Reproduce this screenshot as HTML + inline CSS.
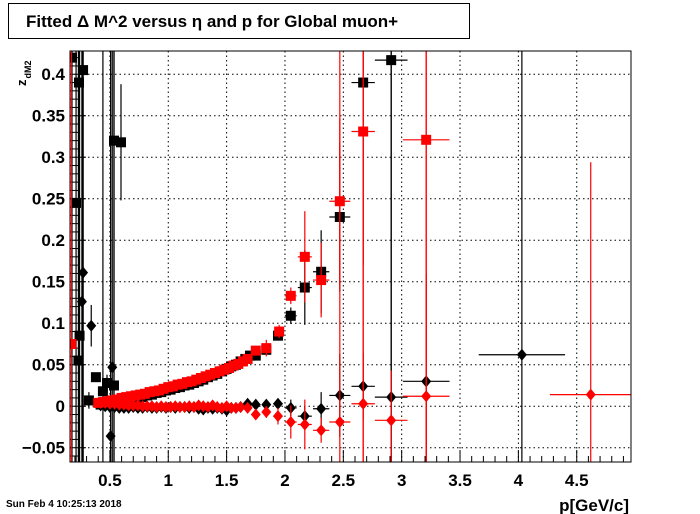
<!DOCTYPE html>
<html><head><meta charset="utf-8"><style>
html,body{margin:0;padding:0;background:#fff;width:700px;height:514px;overflow:hidden;}
svg{display:block;font-family:"Liberation Sans",Arial,sans-serif;}
</style></head><body>
<svg id="chart" width="700" height="514" viewBox="0 0 700 514" xmlns="http://www.w3.org/2000/svg">
<defs><clipPath id="fc"><rect x="70" y="51" width="561" height="411"/></clipPath></defs>
<rect x="0" y="0" width="700" height="514" fill="#fff"/>
<g>
<rect x="8.5" y="3.5" width="461" height="35" fill="#fff" stroke="#000" stroke-width="1"/>
<text x="26" y="27" font-size="17" font-weight="bold">Fitted Δ M^2 versus η and p for Global muon+</text>
</g>
<g id="grid"></g>
<g id="ticks"></g>
<g id="plot" clip-path="url(#fc)"></g>
<rect x="70" y="51" width="561" height="411" fill="none" stroke="#000" stroke-width="1"/>
<text transform="translate(26,86) rotate(-90)" font-size="13" font-weight="bold">z<tspan font-size="9" dy="5" dx="1">dM2</tspan></text>
<text x="629" y="511" font-size="17" font-weight="bold" text-anchor="end">p[GeV/c]</text>
<text x="6" y="507" font-size="10" font-weight="bold">Sun Feb  4 10:25:13 2018</text>
</svg>
<script>
const xTicks=[0.5,1,1.5,2,2.5,3,3.5,4,4.5];
const xTickLabels=["0.5","1","1.5","2","2.5","3","3.5","4","4.5"];
const yTicks=[-0.05,0,0.05,0.1,0.15,0.2,0.25,0.3,0.35,0.4];
const yTickLabels=["\u22120.05","0","0.05","0.1","0.15","0.2","0.25","0.3","0.35","0.4"];

const bsX=[0.175,0.21,0.235,0.27,0.24,0.23,0.32,0.38,0.44,0.475,0.535,0.535,0.595,
0.42,0.46,0.50,0.54,0.58,0.62,0.66,0.70,0.74,0.78,0.82,0.86,0.90,0.94,0.98,1.02,1.06,1.10,1.14,1.18,1.22,1.26,1.30,1.34,1.38,1.42,1.46,1.50,1.54,1.58,1.62,1.66,1.70,
1.75,1.84,1.94,2.05,2.17,2.31,2.47,2.67,2.91];
const bsY=[0.42,0.245,0.39,0.405,0.085,0.055,0.007,0.035,0.018,0.028,0.025,0.32,0.318,
0.002,0.003,0.004,0.005,0.006,0.007,0.008,0.009,0.010,0.011,0.013,0.014,0.016,0.017,0.019,0.020,0.022,0.023,0.025,0.026,0.028,0.030,0.032,0.035,0.037,0.039,0.042,0.045,0.048,0.050,0.054,0.057,0.061,
0.061,0.068,0.085,0.109,0.143,0.162,0.228,0.39,0.417];
const bsEX=[0,0,0,0,0,0,0.01,0.01,0.01,0.01,0.01,0.01,0.01,
0.02,0.02,0.02,0.02,0.02,0.02,0.02,0.02,0.02,0.02,0.02,0.02,0.02,0.02,0.02,0.02,0.02,0.02,0.02,0.02,0.02,0.02,0.02,0.02,0.02,0.02,0.02,0.02,0.02,0.02,0.02,0.02,0.02,
0.03,0.03,0.04,0.05,0.06,0.07,0.09,0.1,0.14];
const bsEY=[1,1,1,1,1,1,0.01,0.005,1,0.01,1,1,0.07,
0.002,0.002,0.002,0.002,0.002,0.002,0.002,0.002,0.002,0.002,0.002,0.002,0.002,0.002,0.002,0.002,0.002,0.002,0.002,0.002,0.002,0.002,0.002,0.002,0.002,0.002,0.002,0.002,0.002,0.002,0.002,0.002,0.002,
0.004,0.005,0.005,0.01,0.045,0.05,0.09,0.22,1];

const rsX=[0.17,
0.40,0.44,0.48,0.52,0.56,0.60,0.64,0.68,0.72,0.76,0.80,0.84,0.88,0.92,0.96,1.00,1.04,1.08,1.12,1.16,1.20,1.24,1.28,1.32,1.36,1.40,1.44,1.48,1.52,1.56,1.60,1.64,1.68,
1.75,1.84,1.95,2.05,2.17,2.31,2.47,2.67,3.21];
const rsY=[0.075,
0.004,0.005,0.006,0.007,0.008,0.010,0.011,0.012,0.013,0.014,0.015,0.017,0.018,0.019,0.021,0.023,0.024,0.026,0.027,0.029,0.030,0.032,0.034,0.036,0.038,0.040,0.042,0.044,0.046,0.049,0.051,0.054,0.057,
0.067,0.07,0.09,0.133,0.18,0.152,0.247,0.331,0.321];
const rsEX=[0,
0.02,0.02,0.02,0.02,0.02,0.02,0.02,0.02,0.02,0.02,0.02,0.02,0.02,0.02,0.02,0.02,0.02,0.02,0.02,0.02,0.02,0.02,0.02,0.02,0.02,0.02,0.02,0.02,0.02,0.02,0.02,0.02,0.02,
0.03,0.03,0.04,0.05,0.06,0.07,0.09,0.1,0.2];
const rsEY=[1,
0.002,0.002,0.002,0.002,0.002,0.002,0.002,0.002,0.002,0.002,0.002,0.002,0.002,0.002,0.002,0.002,0.002,0.002,0.002,0.002,0.002,0.002,0.002,0.002,0.002,0.002,0.002,0.002,0.002,0.002,0.002,0.002,0.002,
0.005,0.01,0.008,0.01,0.055,0.045,0.1,1,1];

const bdX=[0.27,0.26,0.34,0.506,0.52,
0.42,0.46,0.50,0.54,0.58,0.62,0.66,0.70,0.74,0.78,0.82,0.86,0.90,0.94,0.98,1.02,1.06,1.10,1.14,1.18,1.22,1.26,1.30,1.34,1.38,1.42,1.46,1.50,1.54,1.58,1.62,
1.68,1.75,1.84,1.94,2.05,2.17,2.31,2.47,2.67,2.91,3.21,4.03];
const bdY=[0.161,0.126,0.097,-0.036,0.047,
0.001,0.000,-0.001,-0.001,-0.002,-0.002,-0.002,-0.001,-0.002,-0.002,-0.001,-0.002,-0.002,-0.001,-0.002,-0.001,-0.002,-0.001,-0.001,-0.002,-0.001,-0.003,-0.004,-0.002,-0.003,-0.002,-0.003,-0.005,-0.002,-0.002,-0.001,
0.003,0.002,0.002,0.003,-0.002,-0.012,-0.003,0.013,0.024,0.011,0.030,0.062];
const bdEX=[0,0,0,0,0,
0.02,0.02,0.02,0.02,0.02,0.02,0.02,0.02,0.02,0.02,0.02,0.02,0.02,0.02,0.02,0.02,0.02,0.02,0.02,0.02,0.02,0.02,0.02,0.02,0.02,0.02,0.02,0.02,0.02,0.02,0.02,
0.03,0.03,0.03,0.04,0.05,0.06,0.07,0.09,0.1,0.14,0.2,0.37];
const bdEY=[1,1,0.025,1,1,
0.002,0.002,0.002,0.002,0.002,0.002,0.002,0.002,0.002,0.002,0.002,0.002,0.002,0.002,0.002,0.002,0.002,0.002,0.002,0.002,0.002,0.002,0.002,0.002,0.002,0.002,0.002,0.002,0.002,0.002,0.002,
0.003,0.003,0.004,0.006,0.01,0.012,0.02,0.05,0.04,1,0.13,1];

const rdX=[0.42,0.46,0.50,0.54,0.58,0.62,0.66,0.70,0.74,0.78,0.82,0.86,0.90,0.94,0.98,1.02,1.06,1.10,1.14,1.18,1.22,1.26,1.30,1.34,1.38,1.42,1.46,1.50,1.54,1.58,1.62,
1.68,1.75,1.84,1.94,2.05,2.17,2.31,2.47,2.67,2.91,3.21,4.62];
const rdY=[0.004,0.004,0.003,0.003,0.002,0.002,0.001,0.001,0.001,0.000,0.000,0.000,-0.001,0.000,-0.001,-0.001,0.000,-0.001,-0.001,0.000,-0.001,0.001,0.000,-0.001,0.001,-0.001,-0.002,0.000,-0.002,-0.002,-0.001,
-0.002,-0.010,-0.007,-0.012,-0.019,-0.022,-0.029,-0.019,0.003,-0.017,0.012,0.014];
const rdEX=[0.02,0.02,0.02,0.02,0.02,0.02,0.02,0.02,0.02,0.02,0.02,0.02,0.02,0.02,0.02,0.02,0.02,0.02,0.02,0.02,0.02,0.02,0.02,0.02,0.02,0.02,0.02,0.02,0.02,0.02,0.02,
0.03,0.03,0.03,0.04,0.05,0.06,0.07,0.09,0.1,0.14,0.2,0.35];
const rdEY=[0.002,0.002,0.002,0.002,0.002,0.002,0.002,0.002,0.002,0.002,0.002,0.002,0.002,0.002,0.002,0.002,0.002,0.002,0.002,0.002,0.002,0.002,0.002,0.002,0.002,0.002,0.002,0.002,0.002,0.002,0.002,
0.004,0.006,0.007,0.01,0.02,0.03,0.015,1,1,0.06,1,0.28];

const X0=70,X1=631,Y0=51,Y1=462,XMIN=0.158,XMAX=4.965,YMIN=-0.0672,YMAX=0.428;
function sx(v){return X0+(v-XMIN)/(XMAX-XMIN)*(X1-X0);}
function sy(v){return Y1-(v-YMIN)/(YMAX-YMIN)*(Y1-Y0);}
const NS="http://www.w3.org/2000/svg";
function mk(tag,attrs,parent){const e=document.createElementNS(NS,tag);for(const k in attrs)e.setAttribute(k,attrs[k]);parent.appendChild(e);return e;}
const grid=document.getElementById('grid'),ticks=document.getElementById('ticks'),plot=document.getElementById('plot');

xTicks.forEach((v,i)=>{
 const x=sx(v);
 const g=mk('line',{x1:x,x2:x,y1:Y0,y2:Y1,stroke:'#000','stroke-width':1,'stroke-dasharray':'1.5,3'},grid);
 
 
 const t=mk('text',{x:x,y:486,'font-size':17,'font-weight':'bold','text-anchor':'middle'},ticks);
 t.textContent=xTickLabels[i];
 
 
});
for(let k=2;k<=49;k++){
 const v=k/10; if(v<XMIN||v>XMAX)continue;
 const major=(k%5===0);
 const tk=mk('line',{x1:sx(v),x2:sx(v),y1:Y1,y2:Y1-(major?12:6),stroke:'#000','stroke-width':1},ticks);
 
 
}
yTicks.forEach((v,i)=>{
 const y=sy(v);
 const g=mk('line',{x1:X0,x2:X1,y1:y,y2:y,stroke:'#000','stroke-width':1,'stroke-dasharray':'1.5,3'},grid);
 
 
 const t=mk('text',{x:65,y:y+6,'font-size':17,'font-weight':'bold','text-anchor':'end'},ticks);
 t.textContent=yTickLabels[i];
 
 
});
for(let k=-6;k<=42;k++){
 const v=k/100; if(v<YMIN||v>YMAX)continue;
 const major=(k%5===0);
 const tk=mk('line',{x1:X0,x2:X0+(major?16:8),y1:sy(v),y2:sy(v),stroke:'#000','stroke-width':1},ticks);
 
 
}

function series(X,Y,EX,EY,color,shape,name){
 const g=mk('g',{},plot);
 
 
 for(let i=0;i<X.length;i++){
  const cx=sx(X[i]),cy=sy(Y[i]);
  const h=mk('line',{x1:sx(X[i]-EX[i]),x2:sx(X[i]+EX[i]),y1:cy,y2:cy,stroke:color,'stroke-width':1.2},g);
  
  
  const v=mk('line',{x1:cx,x2:cx,y1:sy(Y[i]+EY[i]),y2:sy(Y[i]-EY[i]),stroke:color,'stroke-width':1.2},g);
  
  
 }
 for(let i=0;i<X.length;i++){
  const cx=sx(X[i]),cy=sy(Y[i]);
  let m;
  if(shape==='sq') m=mk('rect',{x:cx-5,y:cy-5,width:10,height:10,fill:color},g);
  else m=mk('polygon',{points:`${cx},${cy-6} ${cx+5},${cy} ${cx},${cy+6} ${cx-5},${cy}`,fill:color},g);
  
  
 }
}
series(bsX,bsY,bsEX,bsEY,'#000','sq','black-squares');
series(bdX,bdY,bdEX,bdEY,'#000','dia','black-diamonds');
series(rsX,rsY,rsEX,rsEY,'#f00','sq','red-squares');
series(rdX,rdY,rdEX,rdEY,'#f00','dia','red-diamonds');
</script>
</body></html>
